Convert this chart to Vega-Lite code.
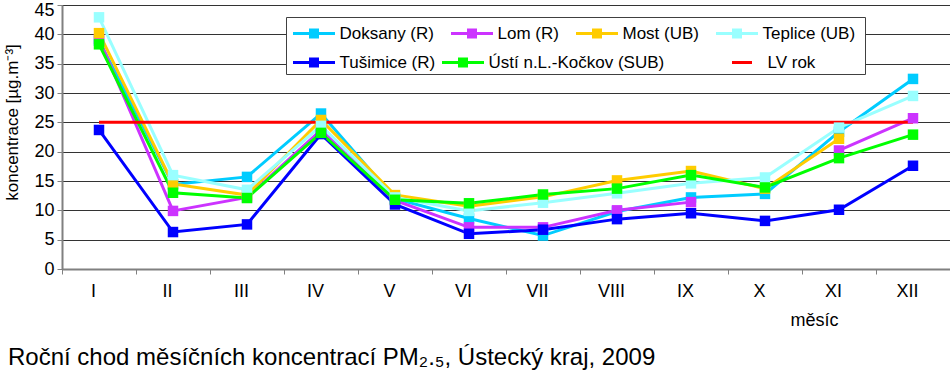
{
  "$schema": "https://vega.github.io/schema/vega-lite/v6.json",
  "width": 888,
  "height": 264,
  "autosize": {"type": "none"},
  "padding": {"left": 62, "top": 5, "right": 0, "bottom": 122},
  "background": "white",
  "title": {
    "text": "Roční chod měsíčních koncentrací PM₂.₅, Ústecký kraj, 2009",
    "orient": "bottom",
    "anchor": "start",
    "frame": "group",
    "dx": -54,
    "offset": 17,
    "font": "Liberation Sans",
    "fontSize": 24,
    "fontWeight": "normal",
    "color": "black"
  },
  "config": {
    "view": {"stroke": "#808080", "strokeWidth": 1},
    "axis": {"labelFont": "Liberation Sans", "titleFont": "Liberation Sans", "labelColor": "black", "titleColor": "black", "titleFontWeight": "normal"},
    "legend": {
      "orient": "none",
      "direction": "horizontal",
      "labelFont": "Liberation Sans",
      "labelFontSize": 17,
      "labelColor": "black",
      "labelLimit": 400,
      "labelOffset": 14,
      "symbolOffset": 11.5,
      "symbolSize": 400,
      "symbolStrokeWidth": 3,
      "padding": 5,
      "titleFont": "Liberation Sans"
    }
  },
  "data": {
    "values": [
      {"month": "I", "series": "Doksany (R)", "value": 38.9},
      {"month": "II", "series": "Doksany (R)", "value": 14.4},
      {"month": "III", "series": "Doksany (R)", "value": 15.7},
      {"month": "IV", "series": "Doksany (R)", "value": 26.5},
      {"month": "V", "series": "Doksany (R)", "value": 12.0},
      {"month": "VI", "series": "Doksany (R)", "value": 8.6},
      {"month": "VII", "series": "Doksany (R)", "value": 5.7},
      {"month": "VIII", "series": "Doksany (R)", "value": 9.8},
      {"month": "IX", "series": "Doksany (R)", "value": 12.2},
      {"month": "X", "series": "Doksany (R)", "value": 12.8},
      {"month": "XI", "series": "Doksany (R)", "value": 23.4},
      {"month": "XII", "series": "Doksany (R)", "value": 32.4},
      {"month": "I", "series": "Lom (R)", "value": 39.2},
      {"month": "II", "series": "Lom (R)", "value": 9.9},
      {"month": "III", "series": "Lom (R)", "value": 12.2},
      {"month": "IV", "series": "Lom (R)", "value": 23.7},
      {"month": "V", "series": "Lom (R)", "value": 11.7},
      {"month": "VI", "series": "Lom (R)", "value": 7.1},
      {"month": "VII", "series": "Lom (R)", "value": 7.1},
      {"month": "VIII", "series": "Lom (R)", "value": 10.0},
      {"month": "IX", "series": "Lom (R)", "value": 11.4},
      {"month": "X", "series": "Lom (R)", "value": null},
      {"month": "XI", "series": "Lom (R)", "value": 20.2},
      {"month": "XII", "series": "Lom (R)", "value": 25.7},
      {"month": "I", "series": "Most (UB)", "value": 40.2},
      {"month": "II", "series": "Most (UB)", "value": 14.5},
      {"month": "III", "series": "Most (UB)", "value": 12.6},
      {"month": "IV", "series": "Most (UB)", "value": 25.4},
      {"month": "V", "series": "Most (UB)", "value": 12.6},
      {"month": "VI", "series": "Most (UB)", "value": 10.7},
      {"month": "VII", "series": "Most (UB)", "value": 12.3},
      {"month": "VIII", "series": "Most (UB)", "value": 15.1},
      {"month": "IX", "series": "Most (UB)", "value": 16.7},
      {"month": "X", "series": "Most (UB)", "value": 13.7},
      {"month": "XI", "series": "Most (UB)", "value": 22.2},
      {"month": "I", "series": "Teplice  (UB)", "value": 42.9},
      {"month": "II", "series": "Teplice  (UB)", "value": 16.0},
      {"month": "III", "series": "Teplice  (UB)", "value": 13.5},
      {"month": "IV", "series": "Teplice  (UB)", "value": 24.4},
      {"month": "V", "series": "Teplice  (UB)", "value": 12.2},
      {"month": "VI", "series": "Teplice  (UB)", "value": 9.9},
      {"month": "VII", "series": "Teplice  (UB)", "value": 11.3},
      {"month": "VIII", "series": "Teplice  (UB)", "value": 12.9},
      {"month": "IX", "series": "Teplice  (UB)", "value": 14.6},
      {"month": "X", "series": "Teplice  (UB)", "value": 15.6},
      {"month": "XI", "series": "Teplice  (UB)", "value": 24.1},
      {"month": "XII", "series": "Teplice  (UB)", "value": 29.5},
      {"month": "I", "series": "Tušimice (R)", "value": 23.7},
      {"month": "II", "series": "Tušimice (R)", "value": 6.3},
      {"month": "III", "series": "Tušimice (R)", "value": 7.6},
      {"month": "IV", "series": "Tušimice (R)", "value": 23.0},
      {"month": "V", "series": "Tušimice (R)", "value": 11.0},
      {"month": "VI", "series": "Tušimice (R)", "value": 6.0},
      {"month": "VII", "series": "Tušimice (R)", "value": 6.7},
      {"month": "VIII", "series": "Tušimice (R)", "value": 8.5},
      {"month": "IX", "series": "Tušimice (R)", "value": 9.5},
      {"month": "X", "series": "Tušimice (R)", "value": 8.2},
      {"month": "XI", "series": "Tušimice (R)", "value": 10.1},
      {"month": "XII", "series": "Tušimice (R)", "value": 17.6},
      {"month": "I", "series": "Ústí n.L.-Kočkov (SUB)", "value": 38.3},
      {"month": "II", "series": "Ústí n.L.-Kočkov (SUB)", "value": 13.0},
      {"month": "III", "series": "Ústí n.L.-Kočkov (SUB)", "value": 12.1},
      {"month": "IV", "series": "Ústí n.L.-Kočkov (SUB)", "value": 23.2},
      {"month": "V", "series": "Ústí n.L.-Kočkov (SUB)", "value": 11.8},
      {"month": "VI", "series": "Ústí n.L.-Kočkov (SUB)", "value": 11.2},
      {"month": "VII", "series": "Ústí n.L.-Kočkov (SUB)", "value": 12.7},
      {"month": "VIII", "series": "Ústí n.L.-Kočkov (SUB)", "value": 13.7},
      {"month": "IX", "series": "Ústí n.L.-Kočkov (SUB)", "value": 16.0},
      {"month": "X", "series": "Ústí n.L.-Kočkov (SUB)", "value": 13.9},
      {"month": "XI", "series": "Ústí n.L.-Kočkov (SUB)", "value": 18.9},
      {"month": "XII", "series": "Ústí n.L.-Kočkov (SUB)", "value": 22.9},
      {"month": "I", "series": "LV rok", "value": 25},
      {"month": "XII", "series": "LV rok", "value": 25}
    ]
  },
  "encoding": {
    "x": {
      "field": "month",
      "type": "ordinal",
      "sort": ["I", "II", "III", "IV", "V", "VI", "VII", "VIII", "IX", "X", "XI", "XII"],
      "scale": {"type": "band", "paddingInner": 0, "paddingOuter": 0},
      "axis": {
        "title": "měsíc",
        "titleFontSize": 18,
        "titleX": 776,
        "titleY": 51,
        "titleAlign": "right",
        "titleBaseline": "middle",
        "labelAngle": 0,
        "labelFontSize": 18,
        "labelPadding": 8,
        "labelOffset": -6,
        "tickBand": "extent",
        "tickSize": 5,
        "tickColor": "#808080",
        "domainColor": "#808080",
        "domainWidth": 2,
        "grid": false
      }
    },
    "y": {
      "field": "value",
      "type": "quantitative",
      "scale": {"domain": [0, 45], "nice": false},
      "axis": {
        "title": "koncentrace [µg.m⁻³]",
        "titleFontSize": 17,
        "titleX": -50,
        "titleY": 117,
        "titleAngle": -90,
        "titleAlign": "center",
        "titleBaseline": "middle",
        "values": [0, 5, 10, 15, 20, 25, 30, 35, 40, 45],
        "labelFontSize": 18,
        "labelPadding": 3,
        "labelOffset": {"condition": {"test": "datum.value === 45", "value": 5}, "value": 0},
        "tickSize": 5,
        "tickColor": "#808080",
        "domainColor": "#808080",
        "domainWidth": 2,
        "grid": true,
        "gridColor": "#333333",
        "gridWidth": 1
      }
    }
  },
  "layer": [
    {
      "transform": [{"filter": {"field": "series", "oneOf": ["Doksany (R)", "Lom (R)", "Most (UB)", "Teplice  (UB)"]}}],
      "mark": {"type": "line", "strokeWidth": 3, "invalid": "break-paths-show-domains"},
      "encoding": {
        "color": {
          "field": "series",
          "type": "nominal",
          "scale": {
            "domain": ["Doksany (R)", "Lom (R)", "Most (UB)", "Teplice  (UB)"],
            "range": ["#00CCFF", "#CC33FF", "#FFCC00", "#99FFFF"]
          },
          "legend": {
            "legendX": 224,
            "legendY": 12,
            "columns": 4,
            "title": " ",
            "titleOrient": "bottom",
            "titleFontSize": 20,
            "titlePadding": 6,
            "fillColor": "white",
            "strokeColor": "#404040",
            "columnPadding": 11,
            "encode": {
              "symbols": {
                "update": {
                  "shape": {"value": "M-2.1,0H2.1M-0.35,-0.35H0.35V0.35H-0.35Z"},
                  "fill": {"scale": "color", "field": "value"},
                  "stroke": {"scale": "color", "field": "value"},
                  "strokeWidth": {"value": 3},
                  "opacity": {"value": 1}
                }
              }
            }
          }
        }
      }
    },
    {
      "transform": [{"filter": {"field": "series", "oneOf": ["Tušimice (R)", "Ústí n.L.-Kočkov (SUB)"]}}],
      "mark": {"type": "line", "strokeWidth": 3},
      "encoding": {
        "stroke": {
          "field": "series",
          "type": "nominal",
          "scale": {
            "domain": ["Tušimice (R)", "Ústí n.L.-Kočkov (SUB)"],
            "range": ["#0000FF", "#00FF00"]
          },
          "legend": {
            "legendX": 224,
            "legendY": 41,
            "columns": 2,
            "title": null,
            "fillColor": "transparent",
            "strokeColor": "transparent",
            "columnPadding": 0,
            "encode": {
              "symbols": {
                "update": {
                  "shape": {"value": "M-2.1,0H2.1M-0.35,-0.35H0.35V0.35H-0.35Z"},
                  "fill": {"scale": "stroke", "field": "value"},
                  "stroke": {"scale": "stroke", "field": "value"},
                  "strokeWidth": {"value": 3},
                  "opacity": {"value": 1}
                }
              }
            }
          }
        }
      }
    },
    {
      "transform": [{"filter": {"field": "series", "equal": "LV rok"}}],
      "mark": {"type": "line", "strokeWidth": 3, "color": "#FF0000"},
      "encoding": {
        "strokeDash": {
          "field": "series",
          "type": "nominal",
          "scale": {"domain": ["LV rok"], "range": [[1, 0]]},
          "legend": {
            "legendX": 652,
            "legendY": 41,
            "title": null,
            "fillColor": "transparent",
            "strokeColor": "transparent",
            "encode": {
              "symbols": {
                "update": {
                  "shape": {"value": "M-2.1,0H2.1"},
                  "stroke": {"value": "#FF0000"},
                  "strokeDash": {"value": [1, 0]},
                  "strokeWidth": {"value": 3},
                  "opacity": {"value": 1}
                }
              }
            }
          }
        }
      }
    },
    {
      "transform": [{"filter": {"field": "series", "oneOf": ["Doksany (R)", "Lom (R)", "Most (UB)", "Teplice  (UB)"]}}, {"filter": "isValid(datum.value)"}],
      "mark": {"type": "point", "shape": "square", "filled": true, "size": 110, "opacity": 1},
      "encoding": {
        "color": {"field": "series", "type": "nominal"}
      }
    },
    {
      "transform": [{"filter": {"field": "series", "oneOf": ["Tušimice (R)", "Ústí n.L.-Kočkov (SUB)"]}}],
      "mark": {"type": "point", "shape": "square", "filled": true, "size": 110, "opacity": 1},
      "encoding": {
        "fill": {
          "field": "series",
          "type": "nominal",
          "scale": {
            "domain": ["Tušimice (R)", "Ústí n.L.-Kočkov (SUB)"],
            "range": ["#0000FF", "#00FF00"]
          },
          "legend": null
        }
      }
    }
  ]
}
